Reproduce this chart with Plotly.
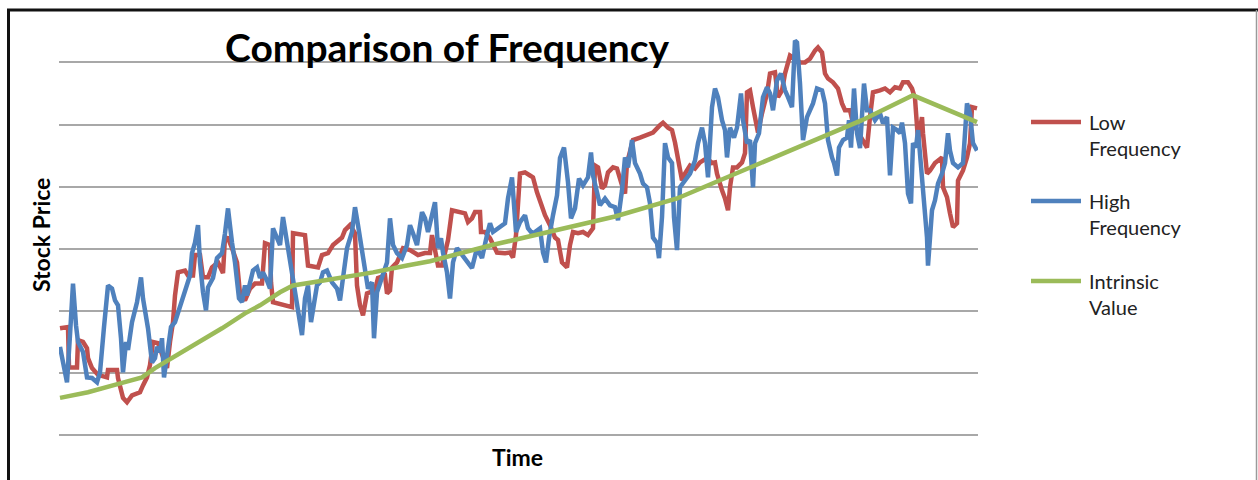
import plotly.graph_objects as go

# ---------------- data (time index in trading days, price in arbitrary units) -------------
low_t = [0,8,9,17,18,23,27,28,32,38,
         47,48,57,58,63,67,72,80,83,87,
         90,93,98,103,107,110,113,115,118,125,
         128,133,135,140,143,148,152,158,163,165,
         168,172,177,180,185,190,195,202,205,210,
         211,213,225,232,233,245,248,258,262,268,
         273,278,282,285,290,295,297,300,303,307,
         315,318,325,327,330,332,337,343,350,358,
         365,370,372,375,378,382,388,392,400,405,
         408,412,415,420,421,425,430,432,437,445,
         450,453,456,460,465,470,473,477,480,485,
         490,495,498,502,507,510,513,518,523,528,
         533,535,538,542,545,548,553,557,562,565,
         567,573,580,587,593,600,603,608,612,615,
         618,622,625,630,635,640,647,652,655,657,
         662,665,668,670,673,677,682,685,687,690,
         693,697,698,702,707,710,715,718,722,725,
         730,735,740,745,750,755,758,762,765,768,
         773,778,782,785,790,793,797,802,807,810,
         813,820,825,830,835,840,843,848,852,855,
         857,858,862,863,867,870,875,882,883,887,
         890,893,897,898,903,907,910,912,917]
low_v = [17.2,17.4,10.9,10.9,15.3,15.0,14.0,12.4,10.8,9.7,
         9.3,10.5,10.5,9.2,6.0,5.3,6.4,6.9,8.0,9.3,
         11.3,15.0,14.8,12.4,10.8,15.0,18.2,22.5,26.2,26.5,
         25.7,25.7,29.0,29.0,25.4,25.4,27.0,27.8,26.1,31.8,
         31.7,30.1,27.8,22.8,21.7,23.6,24.4,24.4,30.9,30.6,
         24.6,21.4,20.9,20.6,32.5,32.2,27.3,27.0,29.0,29.3,
         30.6,31.4,31.8,33.0,33.8,32.5,24.1,20.9,19.3,22.8,
         23.3,25.3,25.7,22.8,23.3,27.0,27.8,30.1,29.8,29.0,
         29.3,29.3,32.2,29.8,27.3,27.3,31.4,36.2,35.9,35.7,
         34.3,34.9,35.9,35.9,32.7,32.7,31.7,31.0,29.4,29.3,
         29.4,28.6,32.2,42.1,42.3,41.8,41.5,39.1,37.5,35.4,
         33.8,31.8,31.4,27.8,27.0,30.6,32.7,32.5,32.7,32.2,
         33.3,43.4,43.1,39.7,40.2,42.3,43.1,42.9,40.2,38.9,
         43.8,47.5,47.9,48.3,48.7,49.9,50.3,49.5,49.1,47.1,
         44.7,41.0,42.1,43.4,42.9,43.9,44.6,43.8,43.9,42.1,
         39.4,38.1,36.2,39.9,43.1,43.1,43.9,45.4,55.2,55.5,
         52.8,49.5,48.7,51.8,55.0,58.2,58.4,54.4,55.5,58.2,
         61.1,60.6,60.0,60.0,60.6,61.9,62.4,61.6,58.2,57.4,
         56.8,55.8,53.4,52.3,52.3,50.2,49.1,47.9,46.3,51.2,
         55.2,55.5,55.8,55.2,56.0,55.8,56.8,56.8,55.8,54.2,
         49.5,47.5,51.2,48.6,42.1,42.6,43.8,44.7,39.9,38.3,
         35.7,33.5,34.1,41.0,42.6,44.7,47.0,52.8,52.6]

high_t = [0,3,7,10,13,16,18,23,27,32,
          37,40,42,44,48,52,55,58,61,63,
          66,68,72,77,81,83,88,92,95,97,
          100,102,104,108,111,115,120,123,127,130,
          132,135,138,140,143,146,148,153,157,162,
          165,168,172,175,179,182,185,187,193,197,
          200,203,207,210,213,217,220,223,227,232,
          235,239,242,245,248,251,254,257,260,263,
          267,272,277,280,283,287,292,295,298,302,
          305,308,312,314,317,322,327,330,333,337,
          342,347,350,353,357,362,365,368,372,375,
          378,381,383,387,390,393,397,402,407,412,
          417,422,427,430,433,438,445,448,452,456,
          460,465,468,472,475,480,483,486,489,493,
          497,500,504,508,511,515,519,523,528,531,
          533,537,540,545,550,555,558,562,565,568,
          572,575,580,583,587,590,593,597,599,602,
          605,608,612,614,617,620,625,630,635,638,
          642,645,648,652,655,658,662,665,667,670,
          674,677,681,683,687,690,693,695,699,703,
          707,710,713,717,721,725,728,732,735,737,
          740,743,747,750,753,757,762,765,768,772,
          774,777,779,783,787,789,791,794,797,800,
          804,807,810,815,820,823,827,830,833,837,
          840,842,845,848,851,853,856,858,862,864,
          867,868,872,875,878,882,885,888,890,893,
          898,903,907,910,913,917]
high_v = [14.2,11.3,8.5,16.1,24.4,17.7,15.0,13.4,9.3,9.2,
          8.5,10.1,15.0,17.4,24.1,23.6,21.7,20.9,15.6,10.1,
          15.0,13.7,18.2,21.4,25.4,22.0,17.2,11.7,12.4,14.2,
          13.4,15.6,9.3,14.5,17.4,18.2,20.9,22.5,24.4,25.7,
          29.3,31.0,33.8,27.8,23.0,20.1,23.8,25.3,28.5,29.3,
          32.5,36.5,31.0,27.8,22.0,21.4,24.1,22.5,26.5,27.0,
          25.3,26.2,24.9,23.6,33.3,31.7,30.6,35.1,31.0,25.7,
          23.3,19.3,16.1,22.0,24.1,18.2,20.9,24.1,24.6,26.2,
          26.5,24.6,23.6,21.7,25.3,30.1,32.7,36.7,33.8,30.1,
          26.9,23.6,24.6,15.6,23.0,25.7,27.8,34.9,30.6,29.3,
          28.5,30.6,33.8,32.5,30.6,35.9,34.9,32.7,35.4,37.5,
          30.1,31.7,29.4,26.2,22.0,27.8,30.1,29.0,27.8,26.9,
          30.1,28.5,32.2,34.1,32.7,33.3,34.1,38.1,41.5,32.7,
          34.3,35.4,33.3,32.5,32.7,33.3,29.4,27.8,31.7,35.4,
          38.6,44.6,46.3,40.7,34.9,36.5,41.3,40.2,41.5,45.5,
          41.8,39.1,37.0,38.1,37.0,36.7,34.6,39.4,44.7,43.1,
          47.5,43.8,42.1,40.5,39.9,37.3,31.8,30.9,28.5,35.1,
          47.0,44.7,43.8,35.1,29.8,39.9,41.0,42.1,44.2,47.0,
          49.5,47.0,41.5,52.8,55.8,54.4,50.7,49.1,44.7,49.5,
          47.9,49.5,55.0,50.7,47.0,47.5,39.9,47.0,48.6,54.4,
          56.0,55.0,52.3,57.1,58.2,55.5,54.4,52.8,63.5,63.2,
          56.6,47.5,51.2,52.3,53.4,55.8,55.5,53.4,47.5,44.7,
          43.8,41.8,46.3,47.5,47.9,50.7,46.3,55.8,48.6,46.2,
          56.6,52.3,52.3,50.7,51.8,50.2,51.2,41.8,49.5,49.1,
          48.6,50.3,47.0,38.9,37.3,47.0,46.3,49.1,42.1,37.3,
          31.8,27.3,36.2,37.8,40.5,42.1,43.8,48.6,45.8,43.8,
          43.1,43.8,53.4,51.8,47.0,45.8]

iv_t = [0,28,62,82,95,112,128,145,162,185,200,220,233,253,280,313,347,370,
        432,498,555,617,683,740,802,853,917]
iv_v = [6.0,6.9,8.4,9.3,10.8,12.4,14.0,15.6,17.2,19.6,20.9,23.0,24.1,24.6,25.3,26.2,27.3,28.0,
        30.6,33.0,35.2,38.1,42.6,46.5,50.7,54.7,50.4]

series_names = ["Low Frequency", "High Frequency", "Intrinsic Value"]
series_colors = ["#C0504D", "#4F81BD", "#9BBB59"]

title_text = "Comparison of Frequency"
x_title = "Time"
y_title = "Stock Price"

# ---------------- layout geometry (pixels of the 1258x480 canvas) ----------------
W, H = 1258, 480
PL, PR, PT, PB = 59, 978, 27, 437   # plot area edges


def px(x):
    return (x - PL) / (PR - PL)


def py(y):
    return (PB - y) / (PB - PT)


FONT = "Lato, 'Open Sans', sans-serif"

fig = go.Figure()
for t, v, name, col in [(low_t, low_v, series_names[0], series_colors[0]),
                        (high_t, high_v, series_names[1], series_colors[1]),
                        (iv_t, iv_v, series_names[2], series_colors[2])]:
    fig.add_trace(go.Scatter(x=t, y=v, mode="lines", name=name,
                             line=dict(color=col, width=4.5)))

shapes = [
    # chart frame
    dict(type="line", xref="paper", yref="paper", x0=px(7), x1=px(1258), y0=py(10), y1=py(10),
         line=dict(color="#111111", width=3)),
    dict(type="line", xref="paper", yref="paper", x0=px(8.5), x1=px(8.5), y0=py(9), y1=py(485),
         line=dict(color="#111111", width=3)),
    dict(type="line", xref="paper", yref="paper", x0=px(1256.5), x1=px(1256.5), y0=py(10), y1=py(485),
         line=dict(color="#9a9a9a", width=1.5)),
]

annotations = [
    dict(text="<b>" + title_text + "</b>", xref="paper", yref="paper", x=px(447), y=py(47),
         xanchor="center", yanchor="middle", showarrow=False,
         font=dict(family=FONT, size=39, color="#000000")),
    dict(text="<b>" + y_title + "</b>", xref="paper", yref="paper", x=px(41), y=py(235),
         xanchor="center", yanchor="middle", showarrow=False, textangle=-90,
         font=dict(family=FONT, size=23, color="#000000")),
    dict(text="<b>" + x_title + "</b>", xref="paper", yref="paper", x=px(517), y=py(457),
         xanchor="center", yanchor="middle", showarrow=False,
         font=dict(family=FONT, size=23, color="#000000")),
]

# manual legend
leg_y = [122, 201, 281]
for name, col, ly in zip(series_names, series_colors, leg_y):
    shapes.append(dict(type="line", xref="paper", yref="paper", x0=px(1031), x1=px(1081),
                       y0=py(ly), y1=py(ly), line=dict(color=col, width=4.5)))
    first, second = name.split(" ")
    for k, word in enumerate([first, second]):
        annotations.append(dict(text=word, xref="paper", yref="paper", x=px(1087), y=py(ly + 26 * k),
                                xanchor="left", yanchor="middle", showarrow=False,
                                font=dict(family=FONT, size=20, color="#222222")))

fig.update_layout(
    width=W, height=H,
    margin=dict(l=PL, r=W - PR, t=PT, b=H - PB, pad=0),
    paper_bgcolor="white", plot_bgcolor="white",
    showlegend=False,
    xaxis=dict(range=[-1, 918], showgrid=False, zeroline=False, showticklabels=False,
               showline=False, ticks=""),
    yaxis=dict(range=[-0.3, 65.7], tick0=0, dtick=10, showgrid=True, gridcolor="#a8a8a8",
               gridwidth=1.5, zeroline=True, zerolinecolor="#a8a8a8", zerolinewidth=1.5,
               showticklabels=False, showline=False, ticks=""),
    shapes=shapes,
    annotations=annotations,
)

fig.write_html("out.html")
